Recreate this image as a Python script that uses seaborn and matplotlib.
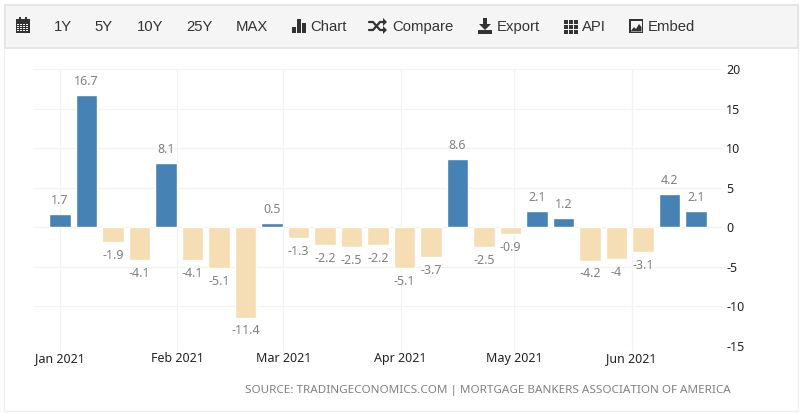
import pandas as pd
import seaborn as sns
import matplotlib.pyplot as plt
from matplotlib.patches import Rectangle, Polygon

# weekly values
weeks = pd.date_range("2021-01-01", periods=25, freq="7D")
values = [1.7, 16.7, -1.9, -4.1, 8.1, -4.1, -5.1, -11.4, 0.5, -1.3, -2.2, -2.5, -2.2,
          -5.1, -3.7, 8.6, -2.5, -0.9, 2.1, 1.2, -4.2, -4, -3.1, 4.2, 2.1]
month_starts = ["2021-01-01", "2021-02-01", "2021-03-01", "2021-04-01", "2021-05-01", "2021-06-01"]
month_labels = ["Jan 2021", "Feb 2021", "Mar 2021", "Apr 2021", "May 2021", "Jun 2021"]
y_ticks = [20, 15, 10, 5, 0, -5, -10, -15]
toolbar_ranges = ["1Y", "5Y", "10Y", "25Y", "MAX"]
toolbar_tools = ["Chart", "Compare", "Export", "API", "Embed"]
source = "SOURCE: TRADINGECONOMICS.COM | MORTGAGE BANKERS ASSOCIATION OF AMERICA"

BLUE = "#4682B4"
TAN = "#F5DEB3"
GREY = "#808080"
GRID = "#F2F2F2"
DARK = "#333333"

df = pd.DataFrame({"week": weeks.strftime("%Y-%m-%d"), "value": values})
df["sign"] = ["up" if v >= 0 else "down" for v in values]

sns.set_style("white")
plt.rcParams["font.family"] = ["Noto Sans", "DejaVu Sans"]
plt.rcParams["axes.unicode_minus"] = False

fig = plt.figure(figsize=(8, 4.13), dpi=100)

# page furniture, in pixel coordinates
bg = fig.add_axes([0, 0, 1, 1])
bg.set_xlim(0, 800)
bg.set_ylim(413, 0)
bg.axis("off")
bg.add_patch(Rectangle((3.5, 4.5), 794, 406, fc="white", ec="#F0F0F0", lw=1))
bg.add_patch(Rectangle((4.5, 5), 793, 43, fc="#F5F5F5", ec="#E2E2E2", lw=1.2))


def bars_icon(x, y):
    for dx, h in [(0, 6), (5, 14), (10, 10)]:
        bg.add_patch(Rectangle((x + dx, y + 7 - h), 3.6, h, fc=DARK, lw=0))


def calendar_icon(x, y):
    bg.add_patch(Rectangle((x - 7, y - 7), 14, 14, fc=DARK, lw=0))
    for gx in range(-5, 6, 3):
        for gy in range(-2, 6, 2):
            bg.add_patch(Rectangle((x + gx - 0.6, y + gy - 0.5), 1.4, 1.1, fc="#F5F5F5", lw=0))
    bg.add_patch(Rectangle((x - 4, y - 9), 2, 3, fc=DARK, lw=0))
    bg.add_patch(Rectangle((x + 2, y - 9), 2, 3, fc=DARK, lw=0))


def shuffle_icon(x, y):
    bg.plot([x, x + 4, x + 11, x + 15], [y + 4, y + 4, y - 4, y - 4], color=DARK, lw=1.6)
    bg.plot([x, x + 4, x + 11, x + 15], [y - 4, y - 4, y + 4, y + 4], color=DARK, lw=1.6)
    bg.add_patch(Polygon([(x + 14, y - 8), (x + 18, y - 4), (x + 14, y)], fc=DARK, lw=0))
    bg.add_patch(Polygon([(x + 14, y), (x + 18, y + 4), (x + 14, y + 8)], fc=DARK, lw=0))


def export_icon(x, y):
    bg.add_patch(Rectangle((x - 2, y - 8), 4, 7, fc=DARK, lw=0))
    bg.add_patch(Polygon([(x - 6, y - 2), (x + 6, y - 2), (x, y + 4)], fc=DARK, lw=0))
    bg.add_patch(Rectangle((x - 7, y + 4), 14, 3.5, fc=DARK, lw=0))


def grid_icon(x, y):
    for gx in (-6, -1, 4):
        for gy in (-6, -1, 4):
            bg.add_patch(Rectangle((x + gx, y + gy), 3.6, 3.6, fc=DARK, lw=0))


def image_icon(x, y):
    bg.add_patch(Rectangle((x - 7, y - 7), 14, 14, fc=DARK, lw=0))
    bg.add_patch(Rectangle((x - 5.5, y - 5.5), 11, 11, fc="#F5F5F5", lw=0))
    bg.add_patch(Polygon([(x - 5.5, y + 5.5), (x - 2, y + 1), (x, y + 3), (x + 3, y - 2), (x + 5.5, y + 1), (x + 5.5, y + 5.5)],
                         fc=DARK, lw=0))


calendar_icon(23, 26)
for label, px in zip(toolbar_ranges, [63, 104, 150, 199, 252]):
    bg.text(px, 27, label, ha="center", va="center", fontsize=10.7, color=DARK, family="Liberation Sans")

bars_icon(292, 26)
shuffle_icon(369, 26)
export_icon(485, 26)
grid_icon(570, 26)
image_icon(636, 26)
for label, px in zip(toolbar_tools, [310, 392, 497, 582, 648]):
    bg.text(px, 27, label, ha="left", va="center", fontsize=10.7, color=DARK, family="Liberation Sans")

bg.text(731, 390, source, ha="right", va="center", fontsize=8.4, color=GREY)

# chart area: y 20 at pixel 69, y -15 at pixel 346
ax = fig.add_axes([33 / 800, 1 - 346 / 413, (722 - 33) / 800, (346 - 69) / 413])
ax.patch.set_alpha(0)
sns.barplot(data=df, x="week", y="value", hue="sign", palette={"up": BLUE, "down": TAN},
            dodge=False, legend=False, width=0.8, saturation=1, ax=ax, zorder=3)

for container in ax.containers:
    ax.bar_label(container, fmt="%g", padding=5, fontsize=9, color=GREY)

tick_pos = [(pd.Timestamp(d) - weeks[0]).days / 7 for d in month_starts]
ax.set_xticks(tick_pos)
ax.set_xticklabels(month_labels, fontsize=9, color="#222222")
ax.set_xlim(-1.02, 24.98)
ax.set_ylim(-15, 20)
ax.set_yticks(y_ticks)
ax.yaxis.tick_right()
ax.tick_params(axis="y", labelsize=9, labelcolor="#222222", length=0, pad=3)
ax.tick_params(axis="x", length=4, color=GRID, pad=0, bottom=True)
ax.grid(True, color=GRID, lw=0.9, zorder=0)
ax.set_axisbelow(True)
ax.set_xlabel("")
ax.set_ylabel("")
sns.despine(ax=ax, left=True, bottom=True, right=True, top=True)

fig.savefig("out.png", dpi=100)
